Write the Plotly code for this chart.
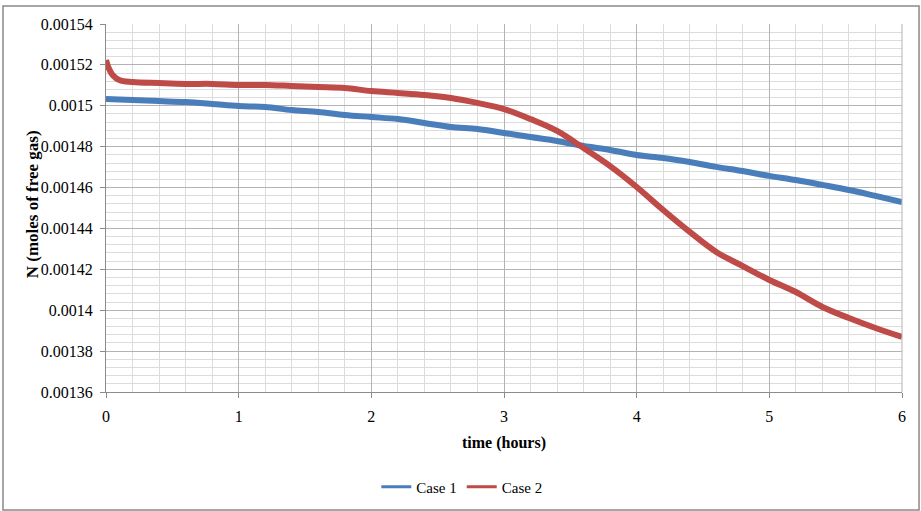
import plotly.graph_objects as go

# ---- data ----
time_case1 = [0, 0.2, 0.4, 0.6, 0.8, 1.0, 1.2, 1.4, 1.6, 1.8, 2.0, 2.2, 2.4, 2.6, 2.8,
              3.0, 3.2, 3.4, 3.6, 3.8, 4.0, 4.2, 4.4, 4.6, 4.8, 5.0, 5.2, 5.4, 5.6, 5.8, 6.0]
n_case1 = [0.0015033, 0.0015028, 0.0015023, 0.0015018, 0.0015009, 0.0014999, 0.0014994,
           0.0014979, 0.0014970, 0.0014955, 0.0014945, 0.0014935, 0.0014916, 0.0014896,
           0.0014886, 0.0014867, 0.0014847, 0.0014828, 0.0014803, 0.0014784, 0.0014759,
           0.0014745, 0.0014725, 0.0014701, 0.0014681, 0.0014657, 0.0014637, 0.0014613,
           0.0014588, 0.0014559, 0.0014529]

time_case2 = [0, 0.02, 0.05, 0.1, 0.2, 0.4, 0.6, 0.8, 1.0, 1.2, 1.4, 1.6, 1.8, 2.0, 2.2,
              2.4, 2.6, 2.8, 3.0, 3.2, 3.4, 3.6, 3.8, 4.0, 4.2, 4.4, 4.6, 4.8, 5.0, 5.2,
              5.4, 5.6, 5.8, 6.0]
n_case2 = [0.0015224, 0.0015185, 0.0015151, 0.0015126, 0.0015116, 0.0015111, 0.0015107,
           0.0015107, 0.0015102, 0.0015102, 0.0015097, 0.0015092, 0.0015087, 0.0015072,
           0.0015063, 0.0015053, 0.0015038, 0.0015014, 0.0014984, 0.0014935, 0.0014877,
           0.0014793, 0.0014705, 0.0014603, 0.0014490, 0.0014383, 0.0014285, 0.0014216,
           0.0014148, 0.0014089, 0.0014016, 0.0013962, 0.0013913, 0.0013869]

series_names = ["Case 1", "Case 2"]
x_tick_vals = [0, 1, 2, 3, 4, 5, 6]
y_tick_vals = [0.00136, 0.00138, 0.0014, 0.00142, 0.00144, 0.00146, 0.00148,
               0.0015, 0.00152, 0.00154]
y_tick_text = ["0.00136", "0.00138", "0.0014", "0.00142", "0.00144", "0.00146",
               "0.00148", "0.0015", "0.00152", "0.00154"]
x_title = "time (hours)"
y_title = "N (moles of free gas)"

FONT = "Liberation Serif"
BLUE = "#4a7ebb"
RED = "#be4b48"

fig = go.Figure()
# data lines (legend entries drawn separately with thinner strokes, as in the reference)
fig.add_trace(go.Scatter(x=time_case1, y=n_case1, mode="lines", name=series_names[0],
                         showlegend=False,
                         line=dict(color=BLUE, width=6, shape="spline")))
fig.add_trace(go.Scatter(x=time_case2, y=n_case2, mode="lines", name=series_names[1],
                         showlegend=False,
                         line=dict(color=RED, width=6, shape="spline")))
fig.add_trace(go.Scatter(x=[None], y=[None], mode="lines", name=series_names[0],
                         line=dict(color=BLUE, width=3)))
fig.add_trace(go.Scatter(x=[None], y=[None], mode="lines", name=series_names[1],
                         line=dict(color=RED, width=3)))

fig.update_layout(
    width=921, height=511,
    margin=dict(l=106, r=19, t=24, b=119, autoexpand=False),
    paper_bgcolor="white", plot_bgcolor="white",
    font=dict(family=FONT, size=16, color="black"),
    showlegend=True,
    legend=dict(orientation="h", x=0.447, xanchor="center", y=-0.258, yanchor="middle",
                font=dict(family=FONT, size=15, color="black"),
                itemwidth=30, tracegroupgap=0, bgcolor="rgba(0,0,0,0)"),
    xaxis=dict(
        range=[0, 6], tickvals=x_tick_vals, ticktext=[str(v) for v in x_tick_vals],
        automargin=False,
        showgrid=True, gridcolor="#b3b3b3", gridwidth=1,
        minor=dict(dtick=0.2, showgrid=True, gridcolor="#dcdcdc", gridwidth=1),
        showline=True, linecolor="#8c8c8c", linewidth=1, mirror=False,
        ticks="outside", ticklen=5, tickcolor="#8c8c8c",
        ticklabelstandoff=5,
        tickfont=dict(family=FONT, size=16),
        zeroline=False,
        title=dict(text="<b>" + x_title + "</b>", font=dict(family=FONT, size=16), standoff=12),
    ),
    yaxis=dict(
        range=[0.00136, 0.00154], tickvals=y_tick_vals, ticktext=y_tick_text,
        automargin=False,
        showgrid=True, gridcolor="#b3b3b3", gridwidth=1,
        minor=dict(dtick=0.000004, tick0=0.00136, showgrid=True, gridcolor="#dcdcdc", gridwidth=1),
        showline=True, linecolor="#8c8c8c", linewidth=1,
        ticks="outside", ticklen=5, tickcolor="#8c8c8c",
        ticklabelstandoff=4,
        tickfont=dict(family=FONT, size=16),
        zeroline=False,
    ),
    annotations=[
        dict(text="<b>" + y_title + "</b>", xref="paper", yref="paper",
             x=-0.093, y=0.51, xanchor="center", yanchor="middle", textangle=-90,
             showarrow=False, font=dict(family=FONT, size=17, color="black")),
    ],
    shapes=[
        dict(type="rect", xref="paper", yref="paper",
             x0=-0.1294, x1=1.0214, y0=-0.3207, y1=1.0489,
             line=dict(color="#898989", width=1.5), fillcolor="rgba(0,0,0,0)", layer="below"),
        dict(type="line", xref="paper", yref="paper", x0=1, x1=1, y0=0, y1=1,
             line=dict(color="#b3b3b3", width=1)),
    ],
)

fig.write_html("out.html")
